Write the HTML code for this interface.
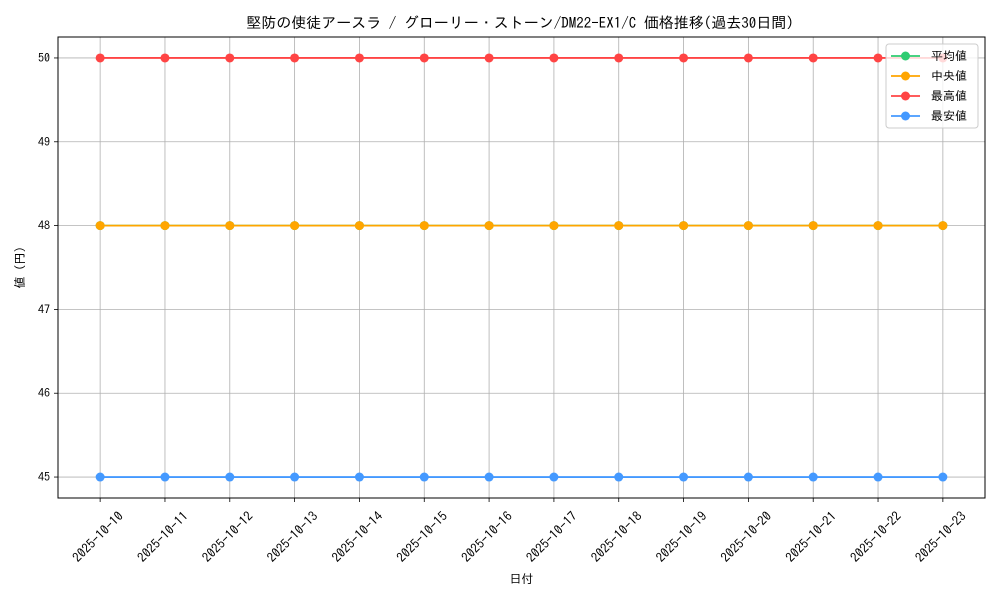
<!DOCTYPE html>
<html><head><meta charset="utf-8"><style>
body{margin:0;background:#fff;}
svg text{font-family:"IPAGothic","Liberation Sans","Noto Sans CJK JP",sans-serif;fill:#000;}
</style></head><body>
<svg id="chart" width="1000" height="600" xmlns="http://www.w3.org/2000/svg"></svg>
<script>
const dates=["2025-10-10","2025-10-11","2025-10-12","2025-10-13","2025-10-14","2025-10-15","2025-10-16","2025-10-17","2025-10-18","2025-10-19","2025-10-20","2025-10-21","2025-10-22","2025-10-23"];
const avgValues=[48,48,48,48,48,48,48,48,48,48,48,48,48,48];
const medianValues=[48,48,48,48,48,48,48,48,48,48,48,48,48,48];
const maxValues=[50,50,50,50,50,50,50,50,50,50,50,50,50,50];
const minValues=[45,45,45,45,45,45,45,45,45,45,45,45,45,45];
const yTicks=[45,46,47,48,49,50];
const seriesNames=["平均値","中央値","最高値","最安値"];

const svg=document.getElementById('chart');
const NS="http://www.w3.org/2000/svg";
const L=58,R=985,T=37,B=498;
const allVals=avgValues.concat(medianValues,maxValues,minValues);
const ymin=Math.min(...allVals),ymax=Math.max(...allVals);
const ypad=(ymax-ymin)*0.05;
const y0=ymin-ypad,y1=ymax+ypad;
const n=dates.length;
const xpad=(n-1)*0.05;
function xs(i){return L+(i+xpad)/(n-1+2*xpad)*(R-L);}
function ys(v){return B-(v-y0)/(y1-y0)*(B-T);}
function el(tag,attrs,parent){const e=document.createElementNS(NS,tag);for(const k in attrs)e.setAttribute(k,attrs[k]);(parent||svg).appendChild(e);return e;}

const title=el('text',{x:520,y:28,'text-anchor':'middle','font-size':15});
title.textContent="堅防の使徒アースラ / グローリー・ストーン/DM22-EX1/C 価格推移(過去30日間)";



const grid=el('g',{});


dates.forEach((d,i)=>{
  el('line',{x1:xs(i),x2:xs(i),y1:T,y2:B,stroke:'#b0b0b0','stroke-width':0.8},grid);
  el('line',{x1:xs(i),x2:xs(i),y1:B,y2:B+4,stroke:'#000','stroke-width':0.8});
  const t=el('text',{x:0,y:0,'text-anchor':'middle','font-size':13,transform:`translate(${xs(i)+1},${B+42}) rotate(-45)`});
  t.textContent=d;
  
  
});
yTicks.forEach(v=>{
  el('line',{x1:L,x2:R,y1:ys(v),y2:ys(v),stroke:'#b0b0b0','stroke-width':0.8},grid);
  el('line',{x1:L-4,x2:L,y1:ys(v),y2:ys(v),stroke:'#000','stroke-width':0.8});
  const t=el('text',{x:L-8,y:ys(v)+4,'text-anchor':'end','font-size':12});
  t.textContent=v;
  
  
});

const colors=["#2ecc71","#ffa500","#ff4444","#4499ff"];
const series=[avgValues,medianValues,maxValues,minValues];
const keys=["avg","median","max","min"];
series.forEach((vals,s)=>{
  const g=el('g',{});
  
  
  el('polyline',{points:vals.map((v,i)=>xs(i)+','+ys(v)).join(' '),fill:'none',stroke:colors[s],'stroke-width':1.8},g);
  vals.forEach((v,i)=>{
    const c=el('circle',{cx:xs(i),cy:ys(v),r:4.5,fill:colors[s]},g);
    
    
  });
});

el('rect',{x:L,y:T,width:R-L,height:B-T,fill:'none',stroke:'#000','stroke-width':1});

const xl=el('text',{x:(L+R)/2,y:583,'text-anchor':'middle','font-size':12});
xl.textContent="日付";


const yl=el('text',{x:0,y:0,'text-anchor':'middle','font-size':12,transform:`translate(24,${(T+B)/2}) rotate(-90)`});
yl.textContent="値 (円)";



const lg=el('g',{});


el('rect',{x:886,y:44,width:92,height:84,rx:3,fill:'#fff','fill-opacity':0.8,stroke:'#ccc'},lg);
seriesNames.forEach((nm,s)=>{
  const yy=56+s*20;
  const e=el('g',{},lg);
  
  
  el('line',{x1:891,x2:920,y1:yy,y2:yy,stroke:colors[s],'stroke-width':1.8},e);
  el('circle',{cx:905.5,cy:yy,r:4.5,fill:colors[s]},e);
  const t=el('text',{x:931,y:yy+4,'font-size':12},e);
  t.textContent=nm;
});
</script>
</body></html>
